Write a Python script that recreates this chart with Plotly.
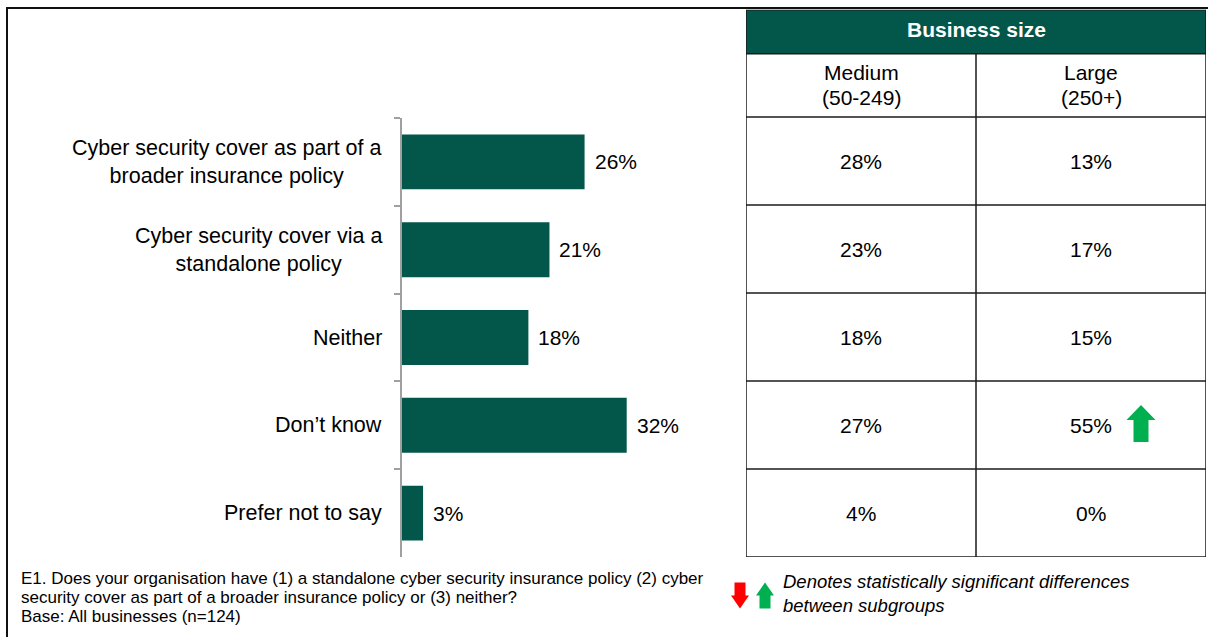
import plotly.graph_objects as go

# ---- data ----
categories = [
    "Cyber security cover as part of a<br>broader insurance policy",
    "Cyber security cover via a<br>standalone policy",
    "Neither",
    "Don\u2019t know",
    "Prefer not to say",
]
all_businesses = [26, 21, 18, 32, 3]

size_groups = ["Medium<br>(50-249)", "Large<br>(250+)"]
medium_values = [28, 23, 18, 27, 4]
large_values = [13, 17, 15, 55, 0]
# significance flags for the Large column ("up" = significantly higher)
large_flags = [None, None, None, "up", None]

table_title = "Business size"
question_lines = [
    "E1. Does your organisation have (1) a standalone cyber security insurance policy (2) cyber",
    "security cover as part of a broader insurance policy or (3) neither?",
    "Base: All businesses (n=124)",
]
legend_lines = "Denotes statistically significant differences<br>between subgroups"

# ---- style ----
W, H = 1208, 637
GREEN = "#03574A"
ARROW_GREEN = "#00B050"
ARROW_RED = "#FF0000"
FONT = "Liberation Sans, Arial, sans-serif"
GRID = "#1a1a1a"
LABEL_SIZE = 21.5
LINE_GAP = 25  # pixel distance between lines of the table sub-header


def px_x(x):
    return x / W


def px_y(y):
    return 1 - y / H


# bar panel geometry (pixels)
BAR_LEFT, BAR_RIGHT, BAR_TOP, BAR_BOTTOM = 402, 718, 118, 557
X_MAX = 45

# table geometry (pixels / row units)
TAB_LEFT, TAB_RIGHT = 746, 1206
ROW_PX = 88
SUB_H = 0.72   # sub-header height in row units
HEAD_H = 0.5   # title band height in row units
N = len(categories)
TAB_TOP_U = -(SUB_H + HEAD_H)
TAB_TOP_PX = BAR_BOTTOM - (N - TAB_TOP_U) * ROW_PX
X2_PER_PX = 2 / (TAB_RIGHT - TAB_LEFT)
Y2_PER_PX = 1 / ROW_PX

fig = go.Figure()

fig.add_trace(go.Bar(
    x=all_businesses,
    y=categories,
    orientation="h",
    marker=dict(color=GREEN, line=dict(width=0)),
    hoverinfo="skip",
    xaxis="x",
    yaxis="y",
))

annotations = []
shapes = []

# category labels: lines centred on each other, block right-aligned
for cat in categories:
    annotations.append(dict(
        x=px_x(384), xref="paper", y=cat, yref="y",
        text=cat, showarrow=False, xanchor="right", yanchor="middle",
        align="center", font=dict(family=FONT, size=LABEL_SIZE, color="black"),
    ))

# value labels next to the bars
for cat, v in zip(categories, all_businesses):
    annotations.append(dict(
        x=v, xref="x", y=cat, yref="y", text=f"{v}%",
        showarrow=False, xanchor="left", yanchor="middle", xshift=8,
        font=dict(family=FONT, size=21, color="black"),
    ))

# ---- table ----
shapes.append(dict(
    type="rect", xref="x2", yref="y2", x0=0, x1=2, y0=TAB_TOP_U, y1=-SUB_H,
    fillcolor=GREEN, line=dict(width=0), layer="below",
))
for yy in [TAB_TOP_U, -SUB_H] + list(range(N + 1)):
    shapes.append(dict(
        type="line", xref="x2", yref="y2", x0=0, x1=2, y0=yy, y1=yy,
        line=dict(color=GRID, width=1.5),
    ))
for xx, ytop in [(0, TAB_TOP_U), (1, -SUB_H), (2, TAB_TOP_U)]:
    shapes.append(dict(
        type="line", xref="x2", yref="y2", x0=xx, x1=xx, y0=ytop, y1=N,
        line=dict(color=GRID, width=1.5),
    ))

annotations.append(dict(
    x=1, xref="x2", y=TAB_TOP_U + HEAD_H / 2, yref="y2", yshift=2,
    text=f"<b>{table_title}</b>", showarrow=False,
    font=dict(family=FONT, size=21, color="white"),
))
for j, grp in enumerate(size_groups):
    for k, part in enumerate(grp.split("<br>")):
        annotations.append(dict(
            x=j + 0.5, xref="x2", y=-SUB_H / 2, yref="y2", text=part,
            showarrow=False, yshift=(0.5 - k) * LINE_GAP,
            font=dict(family=FONT, size=21, color="black"),
        ))

for j, col in enumerate([medium_values, large_values]):
    for i, v in enumerate(col):
        annotations.append(dict(
            x=j + 0.5, xref="x2", y=i + 0.5, yref="y2", text=f"{v}%",
            showarrow=False, font=dict(family=FONT, size=21, color="black"),
        ))


def arrow_path(cx, cy, up, sx, sy, head_w=29, shaft_w=15, head_h=15, total_h=37):
    """Block arrow centred at (cx, cy); sx, sy convert pixels to axis units
    (sy is positive downward in pixel space)."""
    d = -1 if up else 1  # direction of the tip in pixel-y
    tip = cy + d * total_h / 2 * sy
    base = cy - d * total_h / 2 * sy
    neck = tip - d * head_h * sy
    hw, sw = head_w / 2 * sx, shaft_w / 2 * sx
    pts = [(cx, tip), (cx + hw, neck), (cx + sw, neck), (cx + sw, base),
           (cx - sw, base), (cx - sw, neck), (cx - hw, neck)]
    return "M " + " L ".join(f"{px:.5f},{py:.5f}" for px, py in pts) + " Z"


for i, flag in enumerate(large_flags):
    if flag:
        cx = 1.5 + 50 * X2_PER_PX
        cy = i + 0.5 - 1.5 * Y2_PER_PX
        shapes.append(dict(
            type="path", xref="x2", yref="y2",
            path=arrow_path(cx, cy, flag == "up", X2_PER_PX, Y2_PER_PX),
            fillcolor=ARROW_GREEN if flag == "up" else ARROW_RED,
            line=dict(width=0),
        ))

# ---- footer ----
for k, line in enumerate(question_lines):
    annotations.append(dict(
        x=px_x(19), xref="paper", y=px_y(578 + 19 * k), yref="paper",
        text=line, showarrow=False, xanchor="left", yanchor="middle",
        font=dict(family=FONT, size=17, color="black"),
    ))

# legend arrows (paper coordinates, pixel scaled)
for cx, up, col in [(740, False, ARROW_RED), (765, True, ARROW_GREEN)]:
    shapes.append(dict(
        type="path", xref="paper", yref="paper",
        path=arrow_path(px_x(cx), px_y(595.5), up, 1 / W, -1 / H,
                        head_w=18, shaft_w=11, head_h=13, total_h=26),
        fillcolor=col, line=dict(width=0),
    ))
annotations.append(dict(
    x=px_x(781), xref="paper", y=px_y(593), yref="paper",
    text=f"<i>{legend_lines}</i>", showarrow=False, xanchor="left",
    yanchor="middle", align="left",
    font=dict(family=FONT, size=18.5, color="black"),
))

# outer frame
shapes.append(dict(
    type="rect", xref="paper", yref="paper",
    x0=px_x(7), x1=1.01, y0=-0.01, y1=px_y(8),
    line=dict(color="#111", width=2), fillcolor="rgba(0,0,0,0)",
))

fig.update_layout(
    width=W, height=H,
    margin=dict(l=0, r=0, t=0, b=0),
    paper_bgcolor="white", plot_bgcolor="white",
    showlegend=False,
    bargap=0.375,
    xaxis=dict(domain=[px_x(BAR_LEFT), px_x(BAR_RIGHT)], range=[0, X_MAX],
               visible=False, fixedrange=True),
    yaxis=dict(domain=[px_y(BAR_BOTTOM), px_y(BAR_TOP)], type="category",
               autorange="reversed", showticklabels=False,
               showline=True, linecolor="#A0A0A0", linewidth=1.5,
               ticks="outside", tickson="boundaries", ticklen=6,
               tickcolor="#A0A0A0", tickwidth=1.5, showgrid=False,
               zeroline=False, fixedrange=True),
    xaxis2=dict(domain=[px_x(TAB_LEFT), px_x(TAB_RIGHT)], range=[0, 2],
                visible=False, fixedrange=True, anchor="y2"),
    yaxis2=dict(domain=[px_y(BAR_BOTTOM), px_y(TAB_TOP_PX)],
                range=[N, TAB_TOP_U], visible=False, fixedrange=True,
                anchor="x2"),
    annotations=annotations,
    shapes=shapes,
)

fig.write_html("out.html")
